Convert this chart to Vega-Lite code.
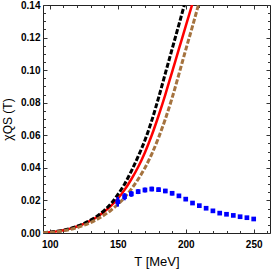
{
  "$schema": "https://vega.github.io/schema/vega-lite/v6.json",
  "width": 227,
  "height": 228,
  "autosize": {"type": "none"},
  "padding": {"left": 43, "top": 5, "right": 3, "bottom": 37},
  "background": "white",
  "config": {
    "view": {"stroke": "#222", "strokeWidth": 1},
    "axis": {
      "domain": false, "grid": false, "tickColor": "#333", "tickWidth": 1,
      "labelFont": "Liberation Sans", "labelFontWeight": "bold", "labelFontSize": 10, "labelColor": "#000",
      "titleFont": "Liberation Sans", "titleFontWeight": "normal", "titleFontSize": 13, "titleColor": "#000"
    }
  },
  "datasets": {
    "red": [
      {"T": 95, "chi": 0.0002}, {"T": 100, "chi": 0.0005}, {"T": 105, "chi": 0.0010}, {"T": 110, "chi": 0.0017},
      {"T": 115, "chi": 0.0027}, {"T": 120, "chi": 0.0040}, {"T": 125, "chi": 0.0056}, {"T": 130, "chi": 0.0076},
      {"T": 135, "chi": 0.0100}, {"T": 140, "chi": 0.0130}, {"T": 145, "chi": 0.0166}, {"T": 150, "chi": 0.0210},
      {"T": 155, "chi": 0.0265}, {"T": 160, "chi": 0.0330}, {"T": 165, "chi": 0.0405}, {"T": 170, "chi": 0.0495},
      {"T": 175, "chi": 0.0600}, {"T": 180, "chi": 0.0720}, {"T": 185, "chi": 0.0850}, {"T": 190, "chi": 0.0990},
      {"T": 195, "chi": 0.1130}, {"T": 200, "chi": 0.1270}, {"T": 205, "chi": 0.1410}, {"T": 210, "chi": 0.1550}
    ],
    "black": [
      {"T": 95, "chi": 0.0002}, {"T": 100, "chi": 0.0005}, {"T": 105, "chi": 0.0010}, {"T": 110, "chi": 0.0017},
      {"T": 115, "chi": 0.0027}, {"T": 120, "chi": 0.0041}, {"T": 125, "chi": 0.0058}, {"T": 130, "chi": 0.0079},
      {"T": 135, "chi": 0.0105}, {"T": 140, "chi": 0.0138}, {"T": 145, "chi": 0.0180}, {"T": 150, "chi": 0.0235},
      {"T": 155, "chi": 0.0300}, {"T": 160, "chi": 0.0380}, {"T": 165, "chi": 0.0470}, {"T": 170, "chi": 0.0570},
      {"T": 175, "chi": 0.0690}, {"T": 180, "chi": 0.0830}, {"T": 185, "chi": 0.0980}, {"T": 190, "chi": 0.1130},
      {"T": 195, "chi": 0.1280}, {"T": 200, "chi": 0.1430}, {"T": 205, "chi": 0.1580}
    ],
    "brown": [
      {"T": 95, "chi": 0.0001}, {"T": 100, "chi": 0.0004}, {"T": 105, "chi": 0.0008}, {"T": 110, "chi": 0.0014},
      {"T": 115, "chi": 0.0022}, {"T": 120, "chi": 0.0033}, {"T": 125, "chi": 0.0047}, {"T": 130, "chi": 0.0064},
      {"T": 135, "chi": 0.0085}, {"T": 140, "chi": 0.0110}, {"T": 145, "chi": 0.0140}, {"T": 150, "chi": 0.0175},
      {"T": 155, "chi": 0.0218}, {"T": 160, "chi": 0.0270}, {"T": 165, "chi": 0.0330}, {"T": 170, "chi": 0.0400},
      {"T": 175, "chi": 0.0485}, {"T": 180, "chi": 0.0585}, {"T": 185, "chi": 0.0700}, {"T": 190, "chi": 0.0830},
      {"T": 195, "chi": 0.0975}, {"T": 200, "chi": 0.1125}, {"T": 205, "chi": 0.1270}, {"T": 210, "chi": 0.1420},
      {"T": 215, "chi": 0.1570}
    ],
    "lattice": [
      {"T": 150, "chi": 0.0192, "lo": 0.0162, "hi": 0.0222},
      {"T": 155, "chi": 0.0223, "lo": 0.0201, "hi": 0.0245},
      {"T": 160, "chi": 0.0240, "lo": 0.0222, "hi": 0.0258},
      {"T": 165, "chi": 0.0254, "lo": 0.0239, "hi": 0.0269},
      {"T": 170, "chi": 0.0264, "lo": 0.0249, "hi": 0.0279},
      {"T": 175, "chi": 0.0270, "lo": 0.0256, "hi": 0.0284},
      {"T": 180, "chi": 0.0266, "lo": 0.0252, "hi": 0.0280},
      {"T": 185, "chi": 0.0258, "lo": 0.0245, "hi": 0.0271},
      {"T": 190, "chi": 0.0244, "lo": 0.0231, "hi": 0.0257},
      {"T": 195, "chi": 0.0228, "lo": 0.0216, "hi": 0.0240},
      {"T": 200, "chi": 0.0208, "lo": 0.0196, "hi": 0.0220},
      {"T": 205, "chi": 0.0184, "lo": 0.0173, "hi": 0.0195},
      {"T": 210, "chi": 0.0168, "lo": 0.0158, "hi": 0.0178},
      {"T": 215, "chi": 0.0152, "lo": 0.0142, "hi": 0.0162},
      {"T": 220, "chi": 0.0136, "lo": 0.0127, "hi": 0.0145},
      {"T": 225, "chi": 0.0122, "lo": 0.0114, "hi": 0.0130},
      {"T": 230, "chi": 0.0115, "lo": 0.0107, "hi": 0.0123},
      {"T": 235, "chi": 0.0108, "lo": 0.0100, "hi": 0.0116},
      {"T": 240, "chi": 0.0100, "lo": 0.0093, "hi": 0.0107},
      {"T": 245, "chi": 0.0094, "lo": 0.0087, "hi": 0.0101},
      {"T": 250, "chi": 0.0086, "lo": 0.0079, "hi": 0.0093}
    ]
  },
  "layer": [
    {
      "data": {"name": "red"},
      "mark": {"type": "line", "color": "#ff0000", "strokeWidth": 2.5, "interpolate": "monotone", "clip": true},
      "encoding": {
        "x": {"field": "T", "type": "quantitative", "scale": {"domain": [95, 262], "nice": false, "zero": false},
              "axis": {"orient": "bottom", "values": [100, 150, 200, 250], "tickSize": -4, "labelPadding": 10, "title": "T [MeV]", "titlePadding": 6}},
        "y": {"field": "chi", "type": "quantitative", "scale": {"domain": [0, 0.14], "nice": false, "zero": true},
              "axis": {"orient": "left", "values": [0, 0.02, 0.04, 0.06, 0.08, 0.1, 0.12, 0.14], "format": ".2f", "tickSize": -4, "labelPadding": 7, "title": "χQS (T)", "titleFontSize": 12, "titlePadding": 6}}
      }
    },
    {
      "data": {"name": "black"},
      "mark": {"type": "line", "color": "#000000", "strokeWidth": 3, "strokeDash": [5, 2], "interpolate": "monotone", "clip": true},
      "encoding": {
        "x": {"field": "T", "type": "quantitative", "scale": {"domain": [95, 262], "nice": false, "zero": false},
              "axis": {"orient": "bottom", "values": [110, 120, 130, 140, 160, 170, 180, 190, 210, 220, 230, 240, 260], "tickSize": -2.5, "labels": false, "title": null}},
        "y": {"field": "chi", "type": "quantitative", "scale": {"domain": [0, 0.14], "nice": false},
              "axis": {"orient": "left", "values": [0.005, 0.01, 0.015, 0.025, 0.03, 0.035, 0.045, 0.05, 0.055, 0.065, 0.07, 0.075, 0.085, 0.09, 0.095, 0.105, 0.11, 0.115, 0.125, 0.13, 0.135], "tickSize": -2.5, "labels": false, "title": null}}
      }
    },
    {
      "data": {"name": "brown"},
      "mark": {"type": "line", "color": "#a5733f", "strokeWidth": 3, "strokeDash": [5, 2], "interpolate": "monotone", "clip": true},
      "encoding": {
        "x": {"field": "T", "type": "quantitative", "scale": {"domain": [95, 262], "nice": false, "zero": false},
              "axis": {"orient": "top", "values": [100, 150, 200, 250], "tickSize": -4, "labels": false, "title": null}},
        "y": {"field": "chi", "type": "quantitative", "scale": {"domain": [0, 0.14], "nice": false},
              "axis": {"orient": "right", "values": [0, 0.02, 0.04, 0.06, 0.08, 0.1, 0.12, 0.14], "tickSize": -4, "labels": false, "title": null}}
      }
    },
    {
      "data": {"name": "lattice"},
      "mark": {"type": "rule", "color": "#0000ff", "strokeWidth": 2.5},
      "encoding": {
        "x": {"field": "T", "type": "quantitative", "scale": {"domain": [95, 262], "nice": false, "zero": false},
              "axis": {"orient": "top", "values": [110, 120, 130, 140, 160, 170, 180, 190, 210, 220, 230, 240, 260], "tickSize": -2.5, "labels": false, "title": null}},
        "y": {"field": "lo", "type": "quantitative", "scale": {"domain": [0, 0.14], "nice": false},
              "axis": {"orient": "right", "values": [0.005, 0.01, 0.015, 0.025, 0.03, 0.035, 0.045, 0.05, 0.055, 0.065, 0.07, 0.075, 0.085, 0.09, 0.095, 0.105, 0.11, 0.115, 0.125, 0.13, 0.135], "tickSize": -2.5, "labels": false, "title": null}},
        "y2": {"field": "hi"}
      }
    },
    {
      "data": {"name": "lattice"},
      "mark": {"type": "square", "color": "#0000ff", "opacity": 1, "filled": true, "size": 22},
      "encoding": {
        "x": {"field": "T", "type": "quantitative", "axis": null},
        "y": {"field": "chi", "type": "quantitative", "axis": null}
      }
    }
  ],
  "resolve": {"axis": {"x": "independent", "y": "independent"}}
}
